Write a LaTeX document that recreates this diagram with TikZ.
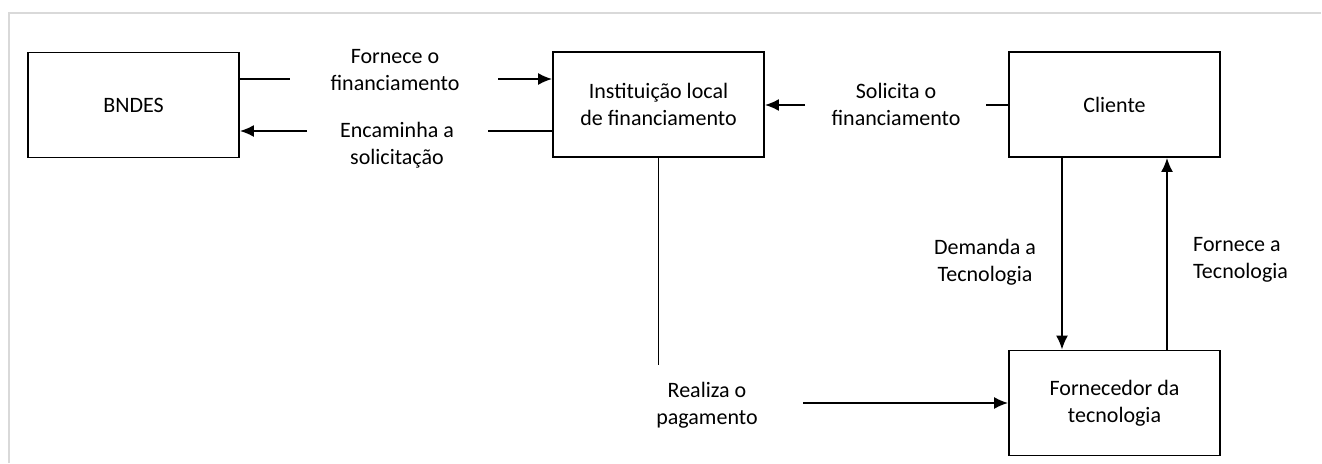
\documentclass[tikz,border=0pt]{standalone}
\usepackage{fontspec}
\setmainfont{Carlito}
\usepackage{tikz}
\usetikzlibrary{arrows.meta,positioning,calc}
\tikzset{>={Latex[length=14pt,width=12pt]}}
\tikzset{
  box/.style={draw, line width=1.8pt, minimum width=211pt, minimum height=105pt, align=center, inner sep=0pt},
  lbl/.style={align=center, inner sep=0pt},
  conn/.style={line width=1.8pt}
}

\begin{document}
\begin{tikzpicture}[x=1pt,y=-1pt, font=\fontsize{22}{27}\selectfont]
        \useasboundingbox (0,0) rectangle (1322,463);
        \draw[gray!30, line width=1.8pt] (9,463) -- (9,13) -- (1321,13);

        % blocos
        \node[box] (bndes) at (133.5,105) {BNDES};
        \node[box] (inst) at (658.5,104.5) {Institui\c{c}\~ao local\\de financiamento};
        \node[box] (cliente) at (1114.5,104.5) {Cliente};
        \node[box] (forn) at (1114.5,403) {Fornecedor da\\tecnologia};

        % BNDES <-> instituicao
        \coordinate (f1) at (290,79);
        \coordinate (f2) at (498,79);
        \draw[conn] (bndes.east |- f1) -- (f1);
        \draw[conn,->] (f2) -- (inst.west |- f2);
        \node[lbl] (lforn) at (395,70) {Fornece o\\financiamento};

        \coordinate (e1) at (488,131);
        \coordinate (e2) at (307,131);
        \draw[conn] (inst.west |- e1) -- (e1);
        \draw[conn,->] (e2) -- (bndes.east |- e2);
        \node[lbl] (lenc) at (397,145) {Encaminha a\\solicita\c{c}\~ao};

        % cliente -> instituicao
        \coordinate (s1) at (986,105);
        \coordinate (s2) at (805,105);
        \draw[conn] (cliente.west |- s1) -- (s1);
        \draw[conn,->] (s2) -- (inst.east |- s2);
        \node[lbl] (lsol) at (896,104) {Solicita o\\financiamento};

        % cliente <-> fornecedor
        \coordinate (dx) at (1062,0);
        \coordinate (ux) at (1167,0);
        \draw[conn,->] (cliente.south -| dx) -- (forn.north -| dx);
        \draw[conn,->] (forn.north -| ux) -- (cliente.south -| ux);
        \node[lbl] (ldem) at (985,262) {Demanda a\\Tecnologia};
        \node[lbl, align=left, anchor=west] (lfte) at (1193,260) {Fornece a\\Tecnologia};

        % pagamento
        \coordinate (r0) at (0,365);
        \coordinate (r1) at (inst.south |- r0);
        \coordinate (r2) at (803,403);
        \draw[conn] (inst.south) -- (r1);
        \draw[conn,->] (r2) -- (forn.west |- r2);
        \node[lbl] (lpag) at (707,405) {Realiza o\\pagamento};
\end{tikzpicture}
\end{document}
